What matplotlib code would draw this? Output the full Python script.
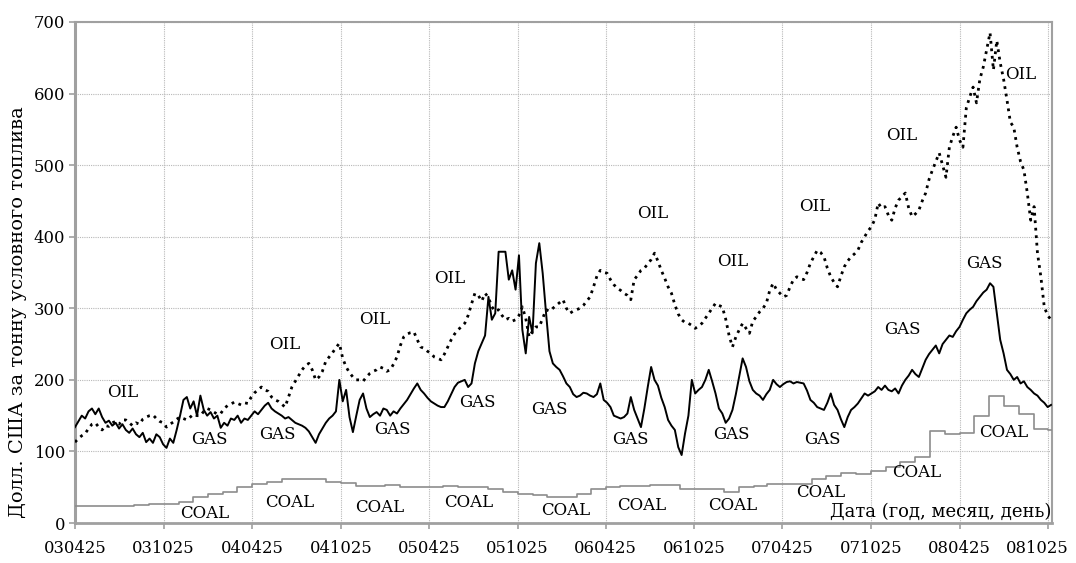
import numpy as np
import pandas as pd
import matplotlib
matplotlib.use("Agg")
import matplotlib.pyplot as plt
from matplotlib.transforms import blended_transform_factory, ScaledTranslation

# Tick labels on the time axis (yymmdd)
tick_labels = ["030425", "031025", "040425", "041025", "050425", "051025",
               "060425", "061025", "070425", "071025", "080425", "081025"]
y_ticks = [0, 100, 200, 300, 400, 500, 600, 700]

# Weekly prices from 2003-04-25, USD per tonne of coal equivalent
gas = [
    134, 142, 150, 146, 156, 160, 152, 160, 148, 140, 143, 136, 140,
    132, 138, 130, 126, 132, 124, 120, 126, 113, 118, 112, 124, 120,
    110, 105, 118, 112, 130, 150, 172, 176, 160, 170, 150, 178, 158,
    150, 155, 146, 150, 133, 140, 136, 146, 144, 150, 140, 146, 144,
    150, 156, 152, 158, 164, 168, 160, 156, 153, 150, 146, 148, 144,
    140, 138, 136, 133, 128, 120, 112, 124, 132, 140, 146, 150, 156,
    200, 170, 186, 148, 127, 150, 172, 181, 160, 148, 152, 155, 150,
    160, 158, 150, 156, 153, 160, 166, 172, 180, 188, 195, 186, 181,
    175, 170, 167, 164, 162, 162, 170, 180, 190, 196, 198, 200, 190,
    195, 223, 240, 251, 262, 316, 284, 293, 379, 379, 379, 340, 353,
    326, 374, 270, 237, 288, 265, 363, 391, 349, 293, 240, 223, 218,
    214, 205, 195, 190, 180, 176, 178, 182, 181, 178, 176, 180, 195,
    172, 168, 162, 150, 148, 146, 148, 153, 176, 158, 146, 134, 160,
    190, 218, 200, 192, 175, 162, 144, 136, 130, 106, 95, 125, 150,
    200, 181, 186, 190, 200, 214, 198, 181, 160, 153, 140, 146, 158,
    180, 205, 230, 218, 198, 186, 181, 178, 172, 180, 186, 200, 194,
    190, 194, 197, 198, 195, 197, 196, 195, 185, 172, 168, 162, 160,
    158, 168, 181, 165, 158, 145, 134, 148, 158, 162, 167, 174, 181,
    178, 181, 184, 190, 186, 192, 186, 184, 188, 181, 192, 200, 206,
    214, 208, 204, 216, 228, 236, 242, 248, 237, 250, 256, 262, 260,
    268, 274, 284, 293, 298, 302, 310, 316, 322, 326, 335, 330, 293,
    256, 237, 214, 208, 200, 204, 195, 198, 190, 186, 181, 178, 172,
    168, 162, 165,
]

oil = [
    113, 118, 122, 125, 132, 138, 140, 134, 130, 136, 135, 140, 142,
    138, 144, 144, 140, 136, 140, 138, 145, 148, 150, 151, 146, 142,
    140, 134, 138, 141, 145, 148, 146, 144, 148, 152, 150, 150, 156,
    160, 158, 155, 152, 153, 160, 164, 166, 169, 167, 165, 168, 167,
    176, 182, 186, 190, 186, 184, 176, 172, 170, 166, 162, 176, 190,
    198, 206, 214, 220, 223, 214, 200, 204, 212, 226, 232, 238, 245,
    251, 230, 218, 210, 204, 200, 200, 198, 204, 209, 212, 214, 218,
    216, 212, 214, 222, 232, 248, 260, 264, 266, 267, 256, 246, 244,
    240, 237, 232, 230, 228, 236, 246, 256, 264, 270, 274, 279, 290,
    306, 321, 318, 310, 321, 315, 302, 296, 298, 290, 284, 286, 282,
    284, 290, 302, 286, 260, 268, 274, 274, 286, 298, 296, 300, 304,
    308, 312, 300, 293, 296, 298, 300, 304, 310, 316, 330, 345, 353,
    350, 349, 340, 333, 328, 325, 321, 318, 312, 340, 346, 353, 356,
    362, 368, 377, 366, 353, 342, 330, 321, 305, 292, 284, 280, 279,
    276, 272, 275, 279, 286, 293, 300, 307, 304, 302, 285, 262, 246,
    260, 270, 279, 272, 265, 282, 288, 295, 300, 307, 325, 335, 326,
    321, 316, 318, 330, 340, 344, 342, 340, 350, 363, 372, 381, 378,
    372, 356, 344, 336, 330, 345, 358, 366, 372, 376, 381, 392, 400,
    408, 414, 424, 447, 440, 442, 430, 423, 440, 451, 456, 461, 440,
    428, 432, 437, 450, 461, 480, 493, 505, 517, 500, 483, 525, 540,
    553, 535, 525, 580, 595, 609, 587, 620, 637, 661, 685, 633, 674,
    643, 620, 591, 560, 553, 525, 505, 493, 461, 423, 442, 377, 344,
    302, 290, 284,
]

# Monthly coal prices from 2003-04-25
coal = [
    24, 24, 24, 24, 25, 26, 27, 30, 36, 40, 44, 50,
    55, 58, 61, 62, 62, 58, 56, 52, 52, 53, 51, 51,
    50, 52, 51, 50, 47, 44, 41, 39, 36, 36, 41, 47,
    51, 52, 52, 53, 53, 48, 47, 47, 44, 50, 52, 54,
    54, 55, 62, 66, 70, 68, 72, 78, 85, 92, 128, 124,
    126, 150, 178, 164, 152, 131, 130, 130,
]

assert len(gas) == len(oil)

weeks = pd.date_range("2003-04-25", periods=len(gas), freq="7D")
months = pd.date_range("2003-04-25", periods=len(coal), freq=pd.DateOffset(months=1))
tick_dates = pd.to_datetime(tick_labels, format="%y%m%d")

plt.rcParams["font.family"] = ["DejaVu Serif"]

fig = plt.figure(figsize=(10.76, 5.63), dpi=100)
ax = fig.add_axes([0.0697, 0.0710, 0.9080, 0.8900])

ax.plot(months, coal, color="#8c8c8c", lw=1.2, drawstyle="steps-post", zorder=3)
ax.plot(weeks, oil, color="black", lw=2.0, linestyle=(0, (1.0, 1.7)),
        dash_capstyle="butt", zorder=4)
ax.plot(weeks, gas, color="black", lw=1.4, zorder=5)

ax.set_xlim(tick_dates[0], pd.Timestamp("2008-11-02"))
ax.set_ylim(0, 700)
ax.set_xticks(tick_dates)
ax.set_xticklabels(tick_labels)
ax.set_yticks(y_ticks)

ax.grid(True, color="#b8b8b8", linestyle=(0, (1, 1)), lw=0.8)
ax.set_axisbelow(True)
for side in ["left", "bottom", "top", "right"]:
    ax.spines[side].set_color("#a0a0a0")
    ax.spines[side].set_linewidth(1.5)
ax.spines["left"].set_linewidth(2.2)
ax.spines["bottom"].set_linewidth(2.0)
ax.tick_params(axis="both", colors="#a0a0a0", length=4, width=1.2,
               labelcolor="black", labelsize=11.8)
ax.tick_params(axis="x", pad=8)
ax.tick_params(axis="y", pad=3)

# keep the last date label inside the figure
last = ax.get_xticklabels()[-1]
last.set_transform(last.get_transform() + ScaledTranslation(-8 / 72, 0, fig.dpi_scale_trans))

ax.set_ylabel("Долл. США за тонну условного топлива", fontsize=14)
ax.yaxis.set_label_coords(-0.049, 0.42)

# Series annotations: x in axes fraction, y in price units
tr = blended_transform_factory(ax.transAxes, ax.transData)
annotations = [
    ("OIL", 0.049, 182), ("OIL", 0.215, 249), ("OIL", 0.307, 284),
    ("OIL", 0.384, 342), ("OIL", 0.591, 433), ("OIL", 0.673, 365),
    ("OIL", 0.757, 442), ("OIL", 0.846, 542), ("OIL", 0.968, 627),
    ("GAS", 0.138, 116), ("GAS", 0.207, 123), ("GAS", 0.325, 130),
    ("GAS", 0.412, 169), ("GAS", 0.486, 158), ("GAS", 0.568, 116),
    ("GAS", 0.672, 123), ("GAS", 0.765, 116), ("GAS", 0.847, 270),
    ("GAS", 0.931, 363),
    ("COAL", 0.133, 14), ("COAL", 0.220, 28), ("COAL", 0.312, 22),
    ("COAL", 0.403, 28), ("COAL", 0.502, 17), ("COAL", 0.580, 25),
    ("COAL", 0.673, 25), ("COAL", 0.763, 43), ("COAL", 0.862, 71),
    ("COAL", 0.951, 127),
]
for txt, xf, yv in annotations:
    ax.text(xf, yv, txt, transform=tr, ha="center", va="center",
            fontsize=12, zorder=6)

ax.text(0.999, 15, "Дата (год, месяц, день)", transform=tr, ha="right",
        va="center", fontsize=13, zorder=6)

fig.savefig("out.png", dpi=100)
